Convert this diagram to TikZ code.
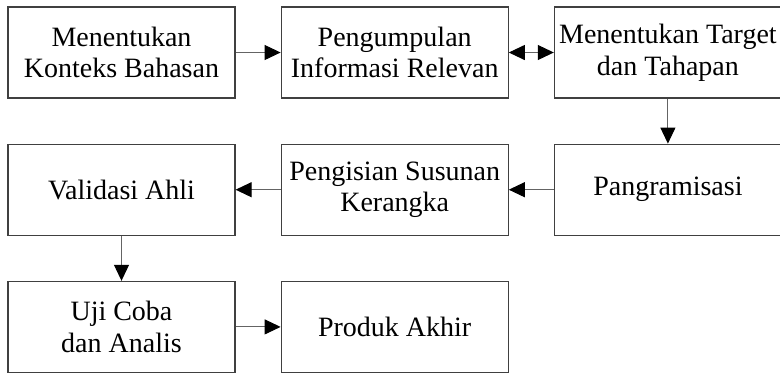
\documentclass[tikz,border=0pt]{standalone}
\usepackage{fontspec}
\setmainfont{Liberation Serif}
\usepackage{tikz}
\usetikzlibrary{arrows.meta, positioning}
\definecolor{boxline}{RGB}{64,64,64}
\definecolor{conline}{RGB}{100,100,100}
\tikzset{
  stepbox/.style={rectangle, draw=boxline, fill=white, line width=0.6pt,
    minimum width=113.5pt, minimum height=45.5pt, align=center,
    inner xsep=1pt, font=\fontsize{14}{15.8}\selectfont},
  arrow/.style={-{Triangle[length=8pt,width=7.5pt,color=black]}, line width=0.5pt, draw=conline},
  darrow/.style={{Triangle[length=8pt,width=7.5pt,color=black]}-{Triangle[length=8pt,width=7.5pt,color=black]}, line width=0.5pt, draw=conline}
}

\begin{document}
\begin{tikzpicture}[node distance=22.5pt]
  \useasboundingbox (0,0) rectangle (390pt,-186pt);

  % baris atas
  \node[stepbox] (kon) at (60.75pt,-26.25pt) {Menentukan\\Konteks Bahasan};
  \node[stepbox, right=of kon] (info) {Pengumpulan\\Informasi Relevan};
  \node[stepbox, right=of info] (target) {Menentukan Target\\dan Tahapan};

  % baris tengah
  \node[stepbox, below=of target] (prog) {Pangramisasi};
  \node[stepbox, below=of info] (susun) {Pengisian Susunan\\Kerangka};
  \node[stepbox, below=of kon] (valid) {Validasi Ahli};

  % baris bawah
  \node[stepbox, below=of valid] (uji) {Uji Coba\\dan Analis};
  \node[stepbox, right=of uji] (produk) {Produk Akhir};

  \draw[arrow] (kon) -- (info);
  \draw[darrow] (info) -- (target);
  \draw[arrow] (target) -- (prog);
  \draw[arrow] (prog) -- (susun);
  \draw[arrow] (susun) -- (valid);
  \draw[arrow] (valid) -- (uji);
  \draw[arrow] (uji) -- (produk);
\end{tikzpicture}
\end{document}
